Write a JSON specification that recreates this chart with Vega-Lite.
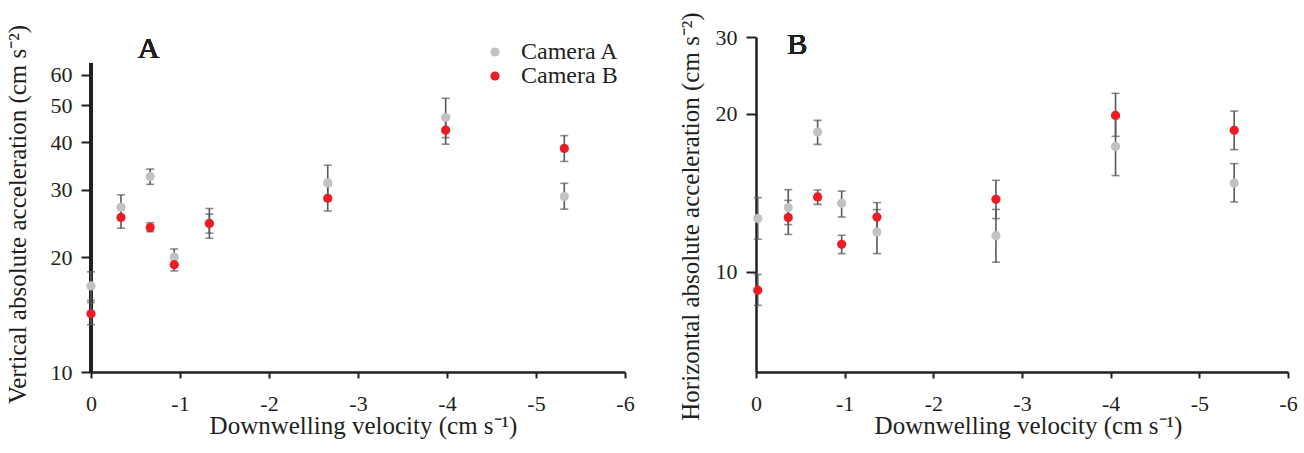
{
  "$schema": "https://vega.github.io/schema/vega-lite/v6.json",
  "background": "white",
  "padding": {"left": 5, "top": 11, "right": 5, "bottom": 5},
  "datasets": {
    "panelA": [
      {"velocity": 0, "acc": 16.8, "lo": 15.4, "hi": 18.3, "camera": "Camera A"},
      {"velocity": -0.337, "acc": 27.0, "lo": 25.1, "hi": 29.1, "camera": "Camera A"},
      {"velocity": -0.665, "acc": 32.5, "lo": 31.0, "hi": 34.0, "camera": "Camera A"},
      {"velocity": -0.935, "acc": 20.0, "lo": 19.1, "hi": 21.0, "camera": "Camera A"},
      {"velocity": -1.33, "acc": 24.5, "lo": 22.4, "hi": 26.8, "camera": "Camera A"},
      {"velocity": -2.66, "acc": 31.3, "lo": 28.1, "hi": 34.8, "camera": "Camera A"},
      {"velocity": -3.985, "acc": 46.4, "lo": 41.1, "hi": 52.1, "camera": "Camera A"},
      {"velocity": -5.318, "acc": 28.8, "lo": 26.7, "hi": 31.2, "camera": "Camera A"},
      {"velocity": 0, "acc": 14.2, "lo": 13.3, "hi": 15.2, "camera": "Camera B"},
      {"velocity": -0.337, "acc": 25.4, "lo": 23.8, "hi": 27.2, "camera": "Camera B"},
      {"velocity": -0.665, "acc": 23.9, "lo": 23.3, "hi": 24.6, "camera": "Camera B"},
      {"velocity": -0.935, "acc": 19.1, "lo": 18.4, "hi": 19.8, "camera": "Camera B"},
      {"velocity": -1.33, "acc": 24.5, "lo": 23.1, "hi": 25.9, "camera": "Camera B"},
      {"velocity": -2.66, "acc": 28.5, "lo": 26.4, "hi": 30.8, "camera": "Camera B"},
      {"velocity": -3.985, "acc": 43.0, "lo": 39.5, "hi": 46.9, "camera": "Camera B"},
      {"velocity": -5.318, "acc": 38.5, "lo": 35.6, "hi": 41.6, "camera": "Camera B"}
    ],
    "panelB": [
      {"velocity": -0.02, "acc": 12.41, "lo": 11.39, "hi": 13.57, "camera": "Camera A"},
      {"velocity": -0.364, "acc": 13.0, "lo": 12.1, "hi": 14.05, "camera": "Camera A"},
      {"velocity": -0.695, "acc": 18.29, "lo": 17.25, "hi": 19.35, "camera": "Camera A"},
      {"velocity": -0.966, "acc": 13.24, "lo": 12.49, "hi": 13.96, "camera": "Camera A"},
      {"velocity": -1.364, "acc": 11.74, "lo": 10.75, "hi": 12.89, "camera": "Camera A"},
      {"velocity": -2.706, "acc": 11.56, "lo": 10.39, "hi": 12.9, "camera": "Camera A"},
      {"velocity": -4.055, "acc": 17.09, "lo": 14.95, "hi": 19.68, "camera": "Camera A"},
      {"velocity": -5.393, "acc": 14.46, "lo": 13.32, "hi": 15.78, "camera": "Camera A"},
      {"velocity": -0.02, "acc": 9.32, "lo": 8.8, "hi": 9.9, "camera": "Camera B"},
      {"velocity": -0.364, "acc": 12.46, "lo": 11.62, "hi": 13.41, "camera": "Camera B"},
      {"velocity": -0.695, "acc": 13.61, "lo": 13.18, "hi": 14.03, "camera": "Camera B"},
      {"velocity": -0.966, "acc": 11.16, "lo": 10.75, "hi": 11.58, "camera": "Camera B"},
      {"velocity": -1.364, "acc": 12.49, "lo": 11.77, "hi": 13.28, "camera": "Camera B"},
      {"velocity": -2.706, "acc": 13.47, "lo": 12.41, "hi": 14.64, "camera": "Camera B"},
      {"velocity": -4.055, "acc": 19.83, "lo": 17.92, "hi": 22.15, "camera": "Camera B"},
      {"velocity": -5.393, "acc": 18.44, "lo": 16.83, "hi": 20.26, "camera": "Camera B"}
    ]
  },
  "config": {
    "view": {"stroke": null},
    "font": "Liberation Serif",
    "axis": {
      "grid": false,
      "labelFont": "Liberation Serif",
      "labelFontSize": 22,
      "labelColor": "#231f20",
      "labelFlush": false,
      "titleFont": "Liberation Serif",
      "titleFontSize": 25,
      "titleFontWeight": "normal",
      "titleColor": "#231f20",
      "domainColor": "#231f20",
      "domainWidth": 2.5,
      "tickColor": "#231f20",
      "tickWidth": 2
    },
    "axisX": {"tickSize": 6, "labelPadding": 15, "titlePadding": -1},
    "axisY": {"tickSize": 10, "labelPadding": 9}
  },
  "bounds": "flush",
  "spacing": 131,
  "resolve": {"scale": {"color": "independent"}, "legend": {"color": "independent"}},
  "hconcat": [
    {
      "width": 534,
      "height": 335,
      "data": {"name": "panelA"},
      "layer": [
        {
          "mark": {"type": "rule", "color": "#231f20", "strokeWidth": 2.5},
          "encoding": {
            "x": {"datum": 0, "type": "quantitative", "title": "Downwelling velocity (cm s⁻¹)"},
            "y": {"datum": 10, "type": "quantitative", "title": "Vertical absolute acceleration (cm s⁻²)"},
            "y2": {"datum": 64.5}
          }
        },
        {
          "mark": {"type": "errorbar", "color": "#595959", "thickness": 1.6, "ticks": {"size": 8, "thickness": 1.6, "color": "#595959"}},
          "encoding": {
            "x": {"field": "velocity", "type": "quantitative", "title": "Downwelling velocity (cm s⁻¹)"},
            "y": {"field": "lo", "type": "quantitative", "title": "Vertical absolute acceleration (cm s⁻²)"},
            "y2": {"field": "hi"}
          }
        },
        {
          "mark": {"type": "point", "filled": true, "opacity": 1, "size": 85, "shape": "circle"},
          "encoding": {
            "x": {
              "field": "velocity", "type": "quantitative",
              "title": "Downwelling velocity (cm s⁻¹)",
              "scale": {"domain": [0, -6], "nice": false, "zero": false},
              "axis": {
                "values": [0, -1, -2, -3, -4, -5, -6],
                "labelExpr": "datum.value == 0 ? '0' : '-' + format(abs(datum.value), 'd')",
                "titleX": 272
              }
            },
            "y": {
              "field": "acc", "type": "quantitative",
              "title": "Vertical absolute acceleration (cm s⁻²)",
              "scale": {"type": "log", "domain": [10, 75.4], "nice": false},
              "axis": {
                "values": [10, 20, 30, 40, 50, 60],
                "format": "d",
                "domain": false,
                "titlePadding": 20,
                "titleY": 177
              }
            },
            "color": {
              "field": "camera", "type": "nominal",
              "scale": {"domain": ["Camera A", "Camera B"], "range": ["#c2c2c2", "#ec1c24"]},
              "legend": {
                "title": null,
                "orient": "none",
                "legendX": 392,
                "legendY": 3,
                "padding": 0,
                "labelFont": "Liberation Serif",
                "labelFontSize": 24,
                "labelColor": "#231f20",
                "labelOffset": 14,
                "symbolSize": 85,
                "symbolType": "circle",
                "rowPadding": -1.5,
                "symbolStrokeWidth": 0
              }
            }
          }
        },
        {
          "mark": {"type": "text", "text": "A", "font": "Liberation Serif", "fontSize": 30, "fontWeight": "normal", "align": "center", "baseline": "alphabetic", "color": "#231f20"},
          "encoding": {
            "x": {"datum": -0.646, "type": "quantitative"},
            "y": {"datum": 66.4, "type": "quantitative"}
          }
        }
      ]
    },
    {
      "width": 532,
      "height": 335,
      "data": {"name": "panelB"},
      "layer": [
        {
          "mark": {"type": "errorbar", "color": "#595959", "thickness": 1.6, "ticks": {"size": 8, "thickness": 1.6, "color": "#595959"}},
          "encoding": {
            "x": {"field": "velocity", "type": "quantitative", "title": "Downwelling velocity (cm s⁻¹)"},
            "y": {"field": "lo", "type": "quantitative", "title": "Horizontal absolute acceleration (cm s⁻²)"},
            "y2": {"field": "hi"}
          }
        },
        {
          "mark": {"type": "point", "filled": true, "opacity": 1, "size": 85, "shape": "circle"},
          "encoding": {
            "x": {
              "field": "velocity", "type": "quantitative",
              "title": "Downwelling velocity (cm s⁻¹)",
              "scale": {"domain": [0, -6], "nice": false, "zero": false},
              "axis": {
                "values": [0, -1, -2, -3, -4, -5, -6],
                "labelExpr": "datum.value == 0 ? '0' : '-' + format(abs(datum.value), 'd')",
                "titleX": 272
              }
            },
            "y": {
              "field": "acc", "type": "quantitative",
              "title": "Horizontal absolute acceleration (cm s⁻²)",
              "scale": {"type": "pow", "exponent": -0.34, "domain": [6.93, 30], "nice": false, "zero": false},
              "axis": {
                "values": [10, 20, 30],
                "format": "d",
                "titlePadding": 12,
                "titleY": 179
              }
            },
            "color": {
              "field": "camera", "type": "nominal",
              "scale": {"domain": ["Camera A", "Camera B"], "range": ["#c2c2c2", "#ec1c24"]},
              "legend": null
            }
          }
        },
        {
          "mark": {"type": "text", "text": "B", "font": "Liberation Serif", "fontSize": 30, "fontWeight": "normal", "align": "center", "baseline": "alphabetic", "color": "#231f20"},
          "encoding": {
            "x": {"datum": -0.466, "type": "quantitative"},
            "y": {"datum": 27.3, "type": "quantitative"}
          }
        }
      ]
    }
  ]
}
